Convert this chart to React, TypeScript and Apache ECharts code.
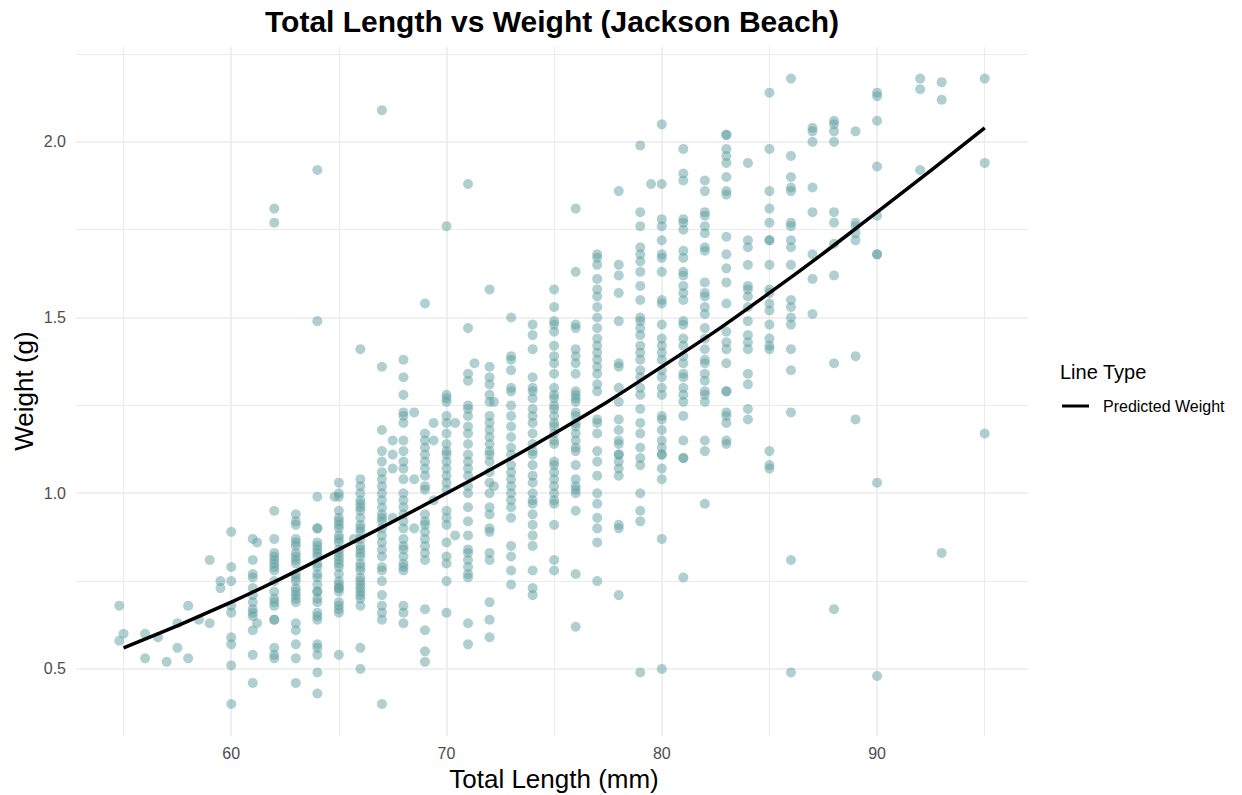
import React, { useEffect, useRef } from "react";
import * as echarts from "echarts";

// Observed fish: total length (mm) columns and the weights (g) seen in each column
const lengthsMm: number[] = [
  54.8, 55, 56, 56.6, 57, 57.5, 58, 58.5, 59, 59.5, 60, 61, 61.2, 62, 63, 64, 64.8, 65, 65.7, 66,
  67, 67.5, 68, 68.5, 69, 69.4, 70, 70.4, 71, 71.3, 72, 72.2, 73, 74, 75, 76, 77, 78, 79, 79.5,
  80, 81, 82, 83, 84, 85, 86, 87, 88, 89, 90, 92, 93, 95,
];

const weightsByLength: number[][] = [
  [0.68, 0.58],
  [0.6],
  [0.6, 0.53],
  [0.59],
  [0.52],
  [0.63, 0.56],
  [0.68, 0.53],
  [0.64],
  [0.81, 0.63],
  [0.75, 0.73],
  [0.89, 0.79, 0.75, 0.68, 0.66, 0.59, 0.57, 0.51, 0.4],
  [0.87, 0.81, 0.77, 0.76, 0.73, 0.71, 0.69, 0.67, 0.66, 0.65, 0.61, 0.54, 0.46],
  [0.86, 0.63],
  [1.81, 1.77, 0.95, 0.87, 0.83, 0.82, 0.81, 0.8, 0.79, 0.78, 0.75, 0.72, 0.7, 0.69, 0.68, 0.64, 0.64, 0.56, 0.54, 0.53],
  [0.94, 0.92, 0.91, 0.87, 0.86, 0.85, 0.83, 0.82, 0.81, 0.8, 0.77, 0.76, 0.75, 0.73, 0.72, 0.71, 0.7, 0.69, 0.63, 0.61, 0.57, 0.53, 0.46],
  [1.92, 1.49, 0.99, 0.9, 0.9, 0.86, 0.85, 0.84, 0.83, 0.82, 0.8, 0.79, 0.77, 0.76, 0.74, 0.72, 0.72, 0.7, 0.69, 0.66, 0.65, 0.64, 0.57, 0.56, 0.54, 0.49, 0.43],
  [0.99],
  [1.03, 1.0, 0.99, 0.95, 0.93, 0.92, 0.91, 0.9, 0.88, 0.87, 0.86, 0.84, 0.83, 0.82, 0.81, 0.8, 0.79, 0.77, 0.75, 0.74, 0.73, 0.73, 0.72, 0.69, 0.68, 0.67, 0.66, 0.54],
  [0.87],
  [1.41, 1.04, 1.02, 1.0, 0.98, 0.97, 0.96, 0.95, 0.93, 0.91, 0.9, 0.89, 0.87, 0.85, 0.84, 0.83, 0.82, 0.8, 0.79, 0.78, 0.76, 0.75, 0.74, 0.73, 0.72, 0.71, 0.7, 0.68, 0.56, 0.5],
  [2.09, 1.36, 1.18, 1.12, 1.09, 1.06, 1.04, 1.02, 1.0, 0.98, 0.96, 0.94, 0.93, 0.92, 0.9, 0.88, 0.86, 0.84, 0.82, 0.79, 0.78, 0.75, 0.71, 0.68, 0.66, 0.64, 0.4],
  [1.15, 1.11, 1.07, 0.93],
  [1.38, 1.33, 1.28, 1.23, 1.22, 1.2, 1.15, 1.12, 1.09, 1.07, 1.04, 1.0, 0.98, 0.96, 0.94, 0.92, 0.9, 0.87, 0.85, 0.84, 0.82, 0.8, 0.79, 0.78, 0.68, 0.66, 0.63],
  [1.23, 1.04, 0.9],
  [1.54, 1.17, 1.15, 1.13, 1.11, 1.09, 1.07, 1.05, 1.02, 1.01, 0.94, 0.92, 0.91, 0.89, 0.87, 0.85, 0.83, 0.81, 0.67, 0.61, 0.55, 0.52],
  [1.2, 1.15, 0.98],
  [1.76, 1.28, 1.27, 1.26, 1.22, 1.2, 1.17, 1.14, 1.12, 1.11, 1.09, 1.07, 1.05, 1.03, 1.01, 0.95, 0.93, 0.91, 0.86, 0.82, 0.8, 0.75, 0.66],
  [1.2, 0.88],
  [1.88, 1.47, 1.34, 1.32, 1.25, 1.24, 1.22, 1.19, 1.17, 1.14, 1.11, 1.09, 1.07, 1.05, 1.02, 1.0, 0.96, 0.92, 0.88, 0.84, 0.83, 0.81, 0.79, 0.77, 0.76, 0.63, 0.57],
  [1.37],
  [1.58, 1.36, 1.33, 1.31, 1.28, 1.26, 1.22, 1.2, 1.18, 1.16, 1.14, 1.12, 1.11, 1.09, 1.06, 1.03, 1.0, 0.96, 0.94, 0.9, 0.89, 0.83, 0.81, 0.69, 0.64, 0.59],
  [1.26, 1.02],
  [1.5, 1.39, 1.38, 1.35, 1.3, 1.29, 1.25, 1.22, 1.19, 1.16, 1.13, 1.11, 1.08, 1.06, 1.04, 1.02, 1.0, 0.98, 0.96, 0.93, 0.85, 0.82, 0.78, 0.74],
  [1.48, 1.45, 1.41, 1.33, 1.3, 1.29, 1.27, 1.24, 1.22, 1.2, 1.17, 1.14, 1.12, 1.11, 1.08, 1.05, 1.03, 1.0, 0.98, 0.97, 0.94, 0.91, 0.88, 0.85, 0.78, 0.73, 0.71],
  [1.58, 1.53, 1.49, 1.48, 1.46, 1.42, 1.39, 1.37, 1.34, 1.3, 1.28, 1.27, 1.25, 1.24, 1.22, 1.2, 1.19, 1.17, 1.15, 1.14, 1.09, 1.08, 1.06, 1.04, 1.02, 1.0, 0.98, 0.97, 0.91, 0.81, 0.78],
  [1.81, 1.63, 1.48, 1.47, 1.41, 1.39, 1.37, 1.34, 1.29, 1.28, 1.27, 1.26, 1.23, 1.22, 1.2, 1.19, 1.17, 1.15, 1.13, 1.12, 1.08, 1.04, 1.02, 1.01, 1.0, 0.95, 0.77, 0.62],
  [1.68, 1.67, 1.65, 1.61, 1.58, 1.56, 1.53, 1.5, 1.47, 1.44, 1.42, 1.4, 1.38, 1.36, 1.34, 1.31, 1.29, 1.21, 1.2, 1.17, 1.12, 1.09, 1.05, 1.0, 0.97, 0.93, 0.9, 0.86, 0.75],
  [1.86, 1.65, 1.62, 1.57, 1.49, 1.37, 1.36, 1.3, 1.26, 1.21, 1.18, 1.15, 1.14, 1.11, 1.11, 1.09, 1.07, 1.05, 0.91, 0.9, 0.71],
  [1.99, 1.8, 1.76, 1.7, 1.68, 1.66, 1.63, 1.59, 1.55, 1.5, 1.49, 1.47, 1.45, 1.42, 1.4, 1.38, 1.35, 1.33, 1.3, 1.28, 1.24, 1.2, 1.17, 1.13, 1.1, 1.08, 1.0, 0.95, 0.92, 0.49],
  [1.88],
  [2.05, 1.88, 1.78, 1.76, 1.72, 1.68, 1.67, 1.63, 1.55, 1.54, 1.48, 1.44, 1.42, 1.4, 1.38, 1.35, 1.33, 1.3, 1.28, 1.22, 1.21, 1.18, 1.15, 1.13, 1.11, 1.11, 1.07, 1.04, 0.87, 0.5],
  [1.98, 1.91, 1.89, 1.78, 1.77, 1.75, 1.69, 1.67, 1.63, 1.62, 1.59, 1.57, 1.55, 1.49, 1.48, 1.44, 1.42, 1.39, 1.37, 1.34, 1.33, 1.3, 1.28, 1.26, 1.22, 1.15, 1.1, 1.1, 0.76],
  [1.89, 1.86, 1.8, 1.79, 1.76, 1.74, 1.7, 1.69, 1.6, 1.57, 1.56, 1.53, 1.51, 1.47, 1.44, 1.41, 1.38, 1.37, 1.34, 1.32, 1.29, 1.28, 1.26, 1.15, 1.12, 0.97],
  [2.02, 2.02, 1.98, 1.96, 1.94, 1.9, 1.86, 1.85, 1.73, 1.68, 1.64, 1.6, 1.54, 1.46, 1.43, 1.41, 1.37, 1.29, 1.29, 1.23, 1.22, 1.2, 1.15, 1.14],
  [1.94, 1.72, 1.7, 1.65, 1.59, 1.58, 1.56, 1.53, 1.49, 1.45, 1.43, 1.41, 1.34, 1.31, 1.24, 1.21],
  [2.14, 1.98, 1.86, 1.81, 1.77, 1.72, 1.72, 1.65, 1.58, 1.57, 1.54, 1.52, 1.48, 1.44, 1.42, 1.41, 1.12, 1.08, 1.07],
  [2.18, 1.96, 1.9, 1.87, 1.86, 1.77, 1.76, 1.72, 1.7, 1.65, 1.55, 1.53, 1.5, 1.48, 1.41, 1.35, 1.23, 0.81, 0.49],
  [2.04, 2.03, 2.0, 1.87, 1.8, 1.68, 1.61, 1.51],
  [2.06, 2.05, 2.03, 2.0, 1.8, 1.77, 1.71, 1.62, 1.37, 0.67],
  [2.03, 1.77, 1.76, 1.74, 1.72, 1.39, 1.21],
  [2.14, 2.13, 2.06, 1.93, 1.79, 1.68, 1.68, 1.03, 0.48],
  [2.18, 2.15, 1.92],
  [2.17, 2.12, 0.83],
  [2.18, 1.94, 1.17],
];

// Predicted weight curve
const predLengths: number[] = [55, 60, 65, 70, 75, 80, 85, 90, 95];
const predWeights: number[] = [0.56, 0.69, 0.84, 1.0, 1.17, 1.36, 1.57, 1.8, 2.04];

// Axis breaks
const xMajorTicks: number[] = [60, 70, 80, 90];
const xMinorTicks: number[] = [55, 65, 75, 85, 95];
const yMajorTicks: number[] = [0.5, 1.0, 1.5, 2.0];
const yMinorTicks: number[] = [0.75, 1.25, 1.75, 2.25];

const X_MIN = 52.79;
const X_MAX = 97.01;
const Y_MIN = 0.309;
const Y_MAX = 2.27;

export default function App() {
  const ref = useRef<HTMLDivElement>(null);

  useEffect(() => {
    document.body.style.margin = "0";
    const chart = echarts.init(ref.current!, null, { renderer: "svg" });
    const points: number[][] = [];
    lengthsMm.forEach((l, i) => {
      weightsByLength[i].forEach((w) => points.push([l, w]));
    });
    const line = predLengths.map((l, i) => [l, predWeights[i]]);
    const font = "'Liberation Sans', Arial, Helvetica, sans-serif";
    const gridColor = "#EBEBEB";

    chart.setOption({
      animation: false,
      backgroundColor: "#FFFFFF",
      textStyle: { fontFamily: font },
      grid: { left: 76, right: 214, top: 47, bottom: 59, containLabel: false },
      xAxis: [
        {
          type: "value",
          min: X_MIN,
          max: X_MAX,
          axisLine: { show: false },
          axisTick: { show: false, customValues: xMajorTicks },
          axisLabel: {
            customValues: xMajorTicks,
            color: "#4D4D4D",
            fontSize: 16,
            margin: 9,
            fontFamily: font,
            formatter: (v: number) => String(v),
          },
          splitLine: { show: true, lineStyle: { color: gridColor, width: 1.6 } },
        },
        {
          type: "value",
          min: X_MIN,
          max: X_MAX,
          axisLine: { show: false },
          axisTick: { show: false, customValues: xMinorTicks },
          axisLabel: { show: false, customValues: xMinorTicks },
          splitLine: { show: true, lineStyle: { color: gridColor, width: 1.0 } },
        },
      ],
      yAxis: [
        {
          type: "value",
          min: Y_MIN,
          max: Y_MAX,
          axisLine: { show: false },
          axisTick: { show: false, customValues: yMajorTicks },
          axisLabel: {
            customValues: yMajorTicks,
            color: "#4D4D4D",
            fontSize: 16,
            margin: 10,
            fontFamily: font,
            formatter: (v: number) => v.toFixed(1),
          },
          splitLine: { show: true, lineStyle: { color: gridColor, width: 1.6 } },
        },
        {
          type: "value",
          min: Y_MIN,
          max: Y_MAX,
          position: "left",
          axisLine: { show: false },
          axisTick: { show: false, customValues: yMinorTicks },
          axisLabel: { show: false, customValues: yMinorTicks },
          splitLine: { show: true, lineStyle: { color: gridColor, width: 1.0 } },
        },
      ],
      legend: {
        data: [{ name: "Predicted Weight", icon: "rect" }],
        left: 1062,
        top: 398,
        orient: "vertical",
        itemWidth: 27,
        itemHeight: 3,
        padding: 0,
        selectedMode: false,
        textStyle: { fontSize: 16, color: "#000000", fontFamily: font, padding: [0, 0, 0, 9] },
      },
      graphic: [
        {
          type: "text",
          style: {
            text: "Total Length vs Weight (Jackson Beach)",
            x: 552,
            y: 21,
            align: "center",
            verticalAlign: "middle",
            font: `bold 30px ${font}`,
            fill: "#000000",
          },
        },
        {
          type: "text",
          style: {
            text: "Total Length (mm)",
            x: 554,
            y: 779,
            align: "center",
            verticalAlign: "middle",
            font: `26px ${font}`,
            fill: "#000000",
          },
        },
        {
          type: "text",
          x: 24,
          y: 391,
          rotation: Math.PI / 2,
          style: {
            text: "Weight (g)",
            x: 0,
            y: 0,
            align: "center",
            verticalAlign: "middle",
            font: `26px ${font}`,
            fill: "#000000",
          },
        },
        {
          type: "text",
          style: {
            text: "Line Type",
            x: 1060,
            y: 372,
            align: "left",
            verticalAlign: "middle",
            font: `20px ${font}`,
            fill: "#000000",
          },
        },
      ],
      series: [
        {
          type: "scatter",
          name: "Observed",
          xAxisIndex: 0,
          yAxisIndex: 0,
          data: points,
          symbol: "circle",
          symbolSize: 10,
          itemStyle: { color: "rgba(95,158,160,0.62)" },
          z: 2,
        },
        {
          type: "line",
          name: "Predicted Weight",
          xAxisIndex: 0,
          yAxisIndex: 0,
          data: line,
          smooth: true,
          showSymbol: false,
          symbol: "none",
          lineStyle: { color: "#000000", width: 3.5 },
          itemStyle: { color: "#000000" },
          z: 3,
        },
      ],
    });
    return () => chart.dispose();
  }, []);

  return <div ref={ref} style={{ width: 1242, height: 795 }} />;
}
